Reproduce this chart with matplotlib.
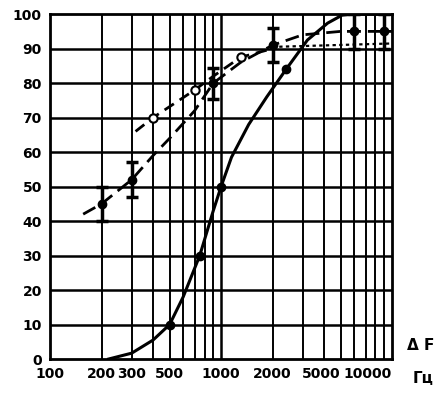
import matplotlib.pyplot as plt

plt.rcParams['font.family'] = ['DejaVu Sans']
plt.rcParams['font.weight'] = 'bold'

# solid curve
f_solid = [220, 300, 400, 500, 600, 750, 900, 1000, 1150, 1450, 1850, 2400, 3200, 4200, 5100, 6000, 10000]
p_solid = [0, 1.7, 5.5, 10, 18, 30, 43, 50, 58.5, 68, 76, 84, 92.5, 97.4, 99.7, 100, 100]
f_solid_pts = [500, 750, 1000, 2400]
p_solid_pts = [10, 30, 50, 84]

# dashed curve with open circles
f_open = [316, 400, 700, 900, 1300, 2000]
p_open = [66, 70, 78, 82, 87.5, 90]
f_open_pts = [400, 700, 1300]
p_open_pts = [70, 78, 87.5]
f_open_tail = [2000, 10000]
p_open_tail = [90.5, 91.5]

# dashed curve with error bars
f_err_line = [156, 200, 300, 400, 500, 700, 900, 1300, 2000, 3000, 5000, 10000]
p_err_line = [42, 45, 52, 59, 64, 72, 80, 86, 91, 94, 95, 95]
f_err = [200, 300, 900, 2000, 6000, 9000]
p_err = [45, 52, 80, 91, 95, 95]
e_err = [5, 5, 4.5, 5, 5, 5]

x_ticks = [100, 200, 300, 500, 1000, 2000, 5000, 10000]
y_ticks = list(range(0, 101, 10))
grid_x = [200, 300, 400, 500, 600, 700, 800, 900,
          2000, 3000, 4000, 5000, 6000, 7000, 8000, 9000]

fig = plt.figure(figsize=(4.4, 3.93), dpi=100)
ax = fig.add_axes([0.114, 0.0865, 0.777, 0.8775])

ax.set_xscale('log')
ax.set_xlim(100, 10000)
ax.set_ylim(0, 100)

for y in y_ticks[1:-1]:
    ax.axhline(y, color='black', lw=1.8, zorder=1)
for x in grid_x:
    ax.axvline(x, color='black', lw=1.4, zorder=1)
ax.axvline(1000, color='black', lw=1.8, zorder=1)

ax.plot(f_solid, p_solid, color='black', lw=2.2, zorder=3)
ax.plot(f_solid_pts, p_solid_pts, 'o', color='black', ms=6, zorder=4)

ax.plot(f_open, p_open, color='black', lw=2.0, dashes=(4, 2.5), zorder=3)
ax.plot(f_open_tail, p_open_tail, color='black', lw=1.6, dashes=(1.5, 1.5), zorder=3)
ax.plot(f_open_pts, p_open_pts, 'o', mfc='white', mec='black', mew=1.5, ms=6, zorder=4)

ax.plot(f_err_line, p_err_line, color='black', lw=2.0, dashes=(5, 2.5), zorder=3)
ax.errorbar(f_err, p_err, yerr=e_err, fmt='o', color='black', ms=6,
            elinewidth=2.5, capsize=4, capthick=2.5, zorder=4)

ax.set_xticks(x_ticks)
ax.set_xticklabels([str(v) for v in x_ticks])
ax.xaxis.set_minor_locator(plt.NullLocator())
ax.set_yticks(y_ticks)
ax.tick_params(length=0, labelsize=10, pad=6)
for lbl in ax.get_xticklabels() + ax.get_yticklabels():
    lbl.set_fontweight('bold')
ax.get_xticklabels()[-1].set_horizontalalignment('right')
ax.get_xticklabels()[-2].set_horizontalalignment('right')

for s in ax.spines.values():
    s.set_linewidth(2)

fig.text(0.962, 0.038, 'Гц', fontsize=11, fontweight='bold', ha='center', va='center')
fig.text(0.955, 0.122, 'Δ F', fontsize=11, fontweight='bold', ha='center', va='center')

plt.savefig('out.png', dpi=100)
